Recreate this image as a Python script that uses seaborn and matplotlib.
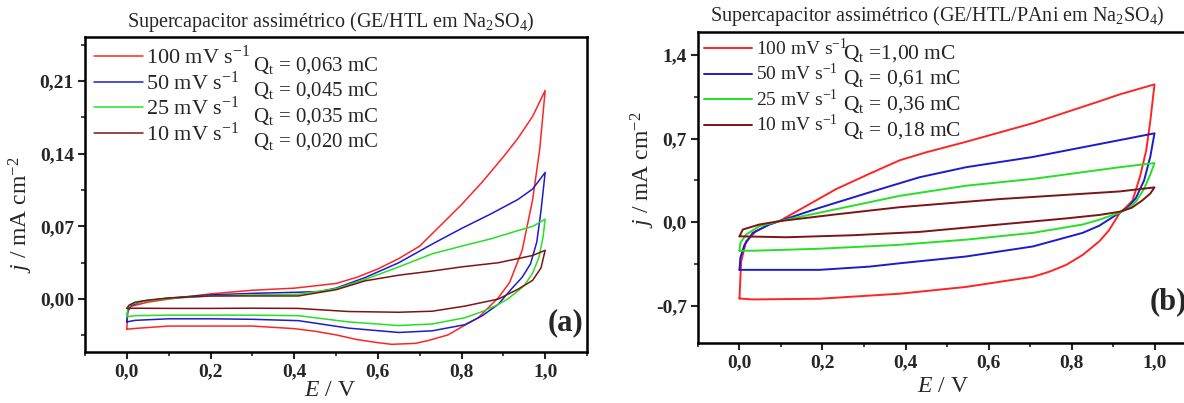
import pandas as pd
import matplotlib
matplotlib.use("Agg")
import matplotlib.pyplot as plt
import seaborn as sns
from matplotlib.ticker import FuncFormatter, MultipleLocator

# ---- data (E / V, j / mA cm-2), one closed loop per scan rate ----
scan_rates = ["100 mV s$^{\\mathregular{-1}}$", "50 mV s$^{\\mathregular{-1}}$",
              "25 mV s$^{\\mathregular{-1}}$", "10 mV s$^{\\mathregular{-1}}$"]
line_colors = ["#ff2424", "#1c1ccf", "#26e026", "#7d1414"]

charges_a = ["Q$_\\mathregular{t}$ = 0,063 mC", "Q$_\\mathregular{t}$ = 0,045 mC",
             "Q$_\\mathregular{t}$ = 0,035 mC", "Q$_\\mathregular{t}$ = 0,020 mC"]
charges_b = ["Q$_\\mathregular{t}$ =1,00 mC", "Q$_\\mathregular{t}$ = 0,61 mC",
             "Q$_\\mathregular{t}$ = 0,36 mC", "Q$_\\mathregular{t}$ = 0,18 mC"]

# panel (a) GE/HTL
a100_E = [0.0, 0.002, 0.01, 0.05, 0.1, 0.2, 0.3, 0.4, 0.5, 0.55, 0.6, 0.65, 0.7, 0.75, 0.8, 0.85, 0.9,
          0.935, 0.97, 1.0,
          0.987, 0.97, 0.945, 0.915, 0.888, 0.84, 0.8, 0.768, 0.72, 0.69, 0.633, 0.6, 0.55, 0.5, 0.45,
          0.4, 0.3, 0.2, 0.1, 0.03, 0.0]
a100_j = [-0.029, -0.012, -0.007, -0.003, 0.0, 0.005, 0.0085, 0.0105, 0.015, 0.021, 0.029, 0.039, 0.051,
          0.071, 0.091, 0.113, 0.137, 0.155, 0.176, 0.201,
          0.1445, 0.0957, 0.047, 0.016, 0.0013, -0.018, -0.027, -0.0345, -0.040, -0.0427, -0.0436, -0.042,
          -0.039, -0.0345, -0.031, -0.0285, -0.026, -0.026, -0.026, -0.028, -0.029]

a50_E = [0.0, 0.002, 0.01, 0.04, 0.1, 0.2, 0.3, 0.4, 0.46, 0.5, 0.57, 0.65, 0.73, 0.8, 0.87, 0.935, 0.97, 1.0,
         0.99, 0.98, 0.965, 0.945, 0.92, 0.888, 0.85, 0.808, 0.73, 0.65, 0.53, 0.41, 0.3, 0.2, 0.1, 0.02, 0.0]
a50_j = [-0.022, -0.012, -0.006, -0.002, 0.001, 0.004, 0.0055, 0.0065, 0.0072, 0.0105, 0.0208, 0.035, 0.053,
         0.068, 0.082, 0.096, 0.106, 0.122,
         0.085, 0.055, 0.034, 0.021, 0.01, -0.005, -0.016, -0.0247, -0.0306, -0.0322, -0.028, -0.0208,
         -0.0195, -0.019, -0.019, -0.0205, -0.022]

a25_E = [0.0, 0.002, 0.01, 0.04, 0.1, 0.2, 0.3, 0.41, 0.5, 0.57, 0.65, 0.73, 0.8, 0.87, 0.935, 0.97, 1.0,
         0.995, 0.985, 0.97, 0.95, 0.935, 0.91, 0.888, 0.85, 0.808, 0.73, 0.65, 0.53, 0.41, 0.3, 0.2, 0.1,
         0.02, 0.0]
a25_j = [-0.017, -0.01, -0.005, -0.002, 0.0005, 0.003, 0.004, 0.0046, 0.01, 0.019, 0.031, 0.0436, 0.051,
         0.058, 0.066, 0.07, 0.077,
         0.06, 0.04, 0.025, 0.013, 0.0078, 0.0, -0.0052, -0.012, -0.018, -0.024, -0.0255, -0.022, -0.016,
         -0.0155, -0.0155, -0.0155, -0.016, -0.017]

a10_E = [0.0, 0.005, 0.02, 0.05, 0.1, 0.2, 0.3, 0.41, 0.5, 0.57, 0.65, 0.73, 0.8, 0.888, 0.935, 0.97, 1.0,
         0.99, 0.97, 0.935, 0.888, 0.808, 0.73, 0.65, 0.53, 0.41, 0.3, 0.2, 0.1, 0.02, 0.0]
a10_j = [-0.009, -0.006, -0.003, -0.001, 0.001, 0.003, 0.003, 0.003, 0.009, 0.0176, 0.023, 0.027, 0.031,
         0.035, 0.039, 0.042, 0.047,
         0.03, 0.018, 0.0095, 0.0, -0.0068, -0.0117, -0.0127, -0.012, -0.009, -0.0088, -0.009, -0.009,
         -0.0088, -0.009]

# panel (b) GE/HTL/PAni
b100_E = [0.0, 0.001, 0.004, 0.016, 0.04, 0.072, 0.096, 0.153, 0.233, 0.313, 0.386, 0.45, 0.546, 0.707,
          0.867, 0.916, 1.0,
          0.99, 0.98, 0.965, 0.947, 0.93, 0.916, 0.89, 0.867, 0.827, 0.787, 0.747, 0.707, 0.546, 0.386,
          0.193, 0.031, 0.0]
b100_j = [-0.64, -0.557, -0.33, -0.161, -0.076, -0.02, 0.008, 0.12, 0.277, 0.405, 0.518, 0.585, 0.673,
          0.829, 1.012, 1.07, 1.154,
          0.85, 0.6, 0.38, 0.18, 0.12, 0.075, -0.07, -0.161, -0.275, -0.359, -0.415, -0.458, -0.543, -0.6,
          -0.642, -0.648, -0.64]

b50_E = [0.0, 0.002, 0.012, 0.032, 0.072, 0.096, 0.193, 0.313, 0.434, 0.546, 0.707, 0.916, 1.0,
         0.99, 0.975, 0.955, 0.935, 0.916, 0.867, 0.827, 0.707, 0.546, 0.386, 0.313, 0.193, 0.072, 0.0]
b50_j = [-0.40, -0.30, -0.19, -0.09, -0.02, 0.008, 0.12, 0.249, 0.376, 0.46, 0.546, 0.687, 0.744,
         0.55, 0.35, 0.2, 0.12, 0.079, -0.03, -0.09, -0.204, -0.288, -0.345, -0.373, -0.40, -0.40, -0.40]

b25_E = [0.0, 0.002, 0.016, 0.048, 0.096, 0.193, 0.386, 0.546, 0.707, 0.916, 1.0,
         0.99, 0.975, 0.955, 0.935, 0.916, 0.867, 0.827, 0.707, 0.546, 0.386, 0.193, 0.032, 0.0]
b25_j = [-0.24, -0.175, -0.104, -0.034, 0.008, 0.079, 0.22, 0.305, 0.362, 0.46, 0.495,
         0.4, 0.28, 0.17, 0.11, 0.079, 0.02, -0.02, -0.09, -0.147, -0.19, -0.223, -0.24, -0.24]

b10_E = [0.0, 0.008, 0.048, 0.096, 0.233, 0.386, 0.627, 0.916, 1.0,
         0.99, 0.97, 0.945, 0.916, 0.867, 0.787, 0.627, 0.434, 0.273, 0.112, 0.0]
b10_j = [-0.119, -0.062, -0.02, 0.008, 0.065, 0.125, 0.193, 0.257, 0.291,
         0.24, 0.18, 0.12, 0.087, 0.06, 0.031, -0.02, -0.082, -0.11, -0.127, -0.119]


def loops_frame(curves):
    rows = []
    for label, (E, j) in zip(scan_rates, curves):
        rows.append(pd.DataFrame({"E": E, "j": j, "scan": label}))
    return pd.concat(rows, ignore_index=True)


df_a = loops_frame([(a100_E, a100_j), (a50_E, a50_j), (a25_E, a25_j), (a10_E, a10_j)])
df_b = loops_frame([(b100_E, b100_j), (b50_E, b50_j), (b25_E, b25_j), (b10_E, b10_j)])

sns.set_theme(style="ticks")
plt.rcParams["font.family"] = ["Liberation Serif", "DejaVu Serif"]
plt.rcParams["mathtext.fontset"] = "custom"
plt.rcParams["mathtext.rm"] = "Liberation Serif"
plt.rcParams["mathtext.it"] = "Liberation Serif:italic"
plt.rcParams["mathtext.bf"] = "Liberation Serif:bold"

W, H = 1184, 403
fig = plt.figure(figsize=(W / 100, H / 100), dpi=100)
palette = dict(zip(scan_rates, line_colors))


def px_axes(left, top, right, bottom):
    return fig.add_axes([left / W, 1 - bottom / H, (right - left) / W, (bottom - top) / H])


def style_axes(ax, ymajor, yfmt):
    ax.set_xlim(-0.1, 1.1)
    ax.xaxis.set_major_locator(MultipleLocator(0.2))
    ax.xaxis.set_minor_locator(MultipleLocator(0.1))
    ax.yaxis.set_major_locator(MultipleLocator(ymajor))
    ax.yaxis.set_minor_locator(MultipleLocator(ymajor / 2))
    ax.xaxis.set_major_formatter(FuncFormatter(lambda v, p: f"{v:.1f}".replace(".", ",").replace("-0,0", "0,0")))
    ax.yaxis.set_major_formatter(FuncFormatter(lambda v, p: yfmt.format(v).replace(".", ",").replace("-0,0", "0,0")))
    ax.tick_params(which="major", direction="out", length=5, width=1.5, labelsize=14, pad=3,
                   top=False, right=False)
    ax.tick_params(which="minor", direction="out", length=3, width=1.2, top=False, right=False)
    for lab in ax.get_xticklabels() + ax.get_yticklabels():
        lab.set_fontweight("bold")
    for sp in ax.spines.values():
        sp.set_linewidth(1.8)
        sp.set_color("black")
    ax.set_xlabel("")
    ax.set_ylabel("")


# ---- panel (a) ----
ax_a = px_axes(85, 37, 587, 352)
sns.lineplot(data=df_a, x="E", y="j", hue="scan", palette=palette, sort=False, estimator=None,
             lw=1.1, ax=ax_a)
ax_a.set_ylim(-0.051, 0.2525)
style_axes(ax_a, 0.07, "{:.2f}")
h, l = ax_a.get_legend_handles_labels()
ax_a.legend(h, l, loc="upper left", bbox_to_anchor=(0.0, 1.0), frameon=False, fontsize=16,
            handlelength=2.2, handletextpad=0.15, labelspacing=0.1, borderaxespad=0.25, borderpad=0.15)
for i, q in enumerate(charges_a):
    ax_a.text(0.335, 0.909 - i * 0.080, q, transform=ax_a.transAxes, fontsize=15, va="center", ha="left")
ax_a.text(0.958, 0.092, "(a)", transform=ax_a.transAxes, fontsize=22, fontweight="bold",
          ha="center", va="center")

# ---- panel (b) ----
ax_b = px_axes(698, 32, 1196, 343)
sns.lineplot(data=df_b, x="E", y="j", hue="scan", palette=palette, sort=False, estimator=None,
             lw=1.4, ax=ax_b)
ax_b.set_ylim(-1.013, 1.593)
style_axes(ax_b, 0.7, "{:.1f}")
h, l = ax_b.get_legend_handles_labels()
ax_b.legend(h, l, loc="upper left", bbox_to_anchor=(0.0, 1.0), frameon=False, fontsize=14,
            handlelength=2.5, handletextpad=0.2, labelspacing=0.22, borderaxespad=0.2, borderpad=0.1)
for i, q in enumerate(charges_b):
    ax_b.text(0.291, 0.932 - i * 0.083, q, transform=ax_b.transAxes, fontsize=15.5, va="center", ha="left")
ax_b.text(0.945, 0.132, "(b)", transform=ax_b.transAxes, fontsize=22, fontweight="bold",
          ha="center", va="center")

# ---- titles and axis labels ----
fig.text(331 / W, 1 - 22 / H, "Supercapacitor assimétrico (GE/HTL em Na$_\\mathregular{2}$SO$_\\mathregular{4}$)",
         ha="center", va="center", fontsize=14.5)
fig.text(937 / W, 1 - 16 / H, "Supercapacitor assimétrico (GE/HTL/PAni em Na$_\\mathregular{2}$SO$_\\mathregular{4}$)",
         ha="center", va="center", fontsize=14.5)
ylab = "$\\it{j}$ / mA cm$^{\\mathregular{-2}}$"
fig.text(21 / W, 1 - 215 / H, ylab, rotation=90, ha="center", va="center", fontsize=17)
fig.text(643 / W, 1 - 170 / H, ylab, rotation=90, ha="center", va="center", fontsize=17)
fig.text(330 / W, 1 - 391 / H, "$\\it{E}$ / V", ha="center", va="center", fontsize=17)
fig.text(943 / W, 1 - 386 / H, "$\\it{E}$ / V", ha="center", va="center", fontsize=17)

fig.savefig("out.png", dpi=100, facecolor="white")
